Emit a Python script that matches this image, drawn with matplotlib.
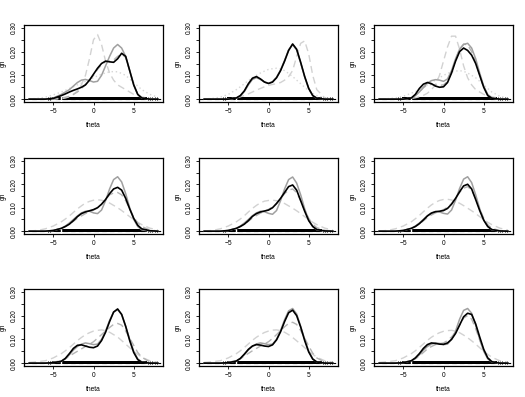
import matplotlib
matplotlib.use('Agg')
import matplotlib.pyplot as plt
import numpy as np

plt.rcParams['font.family'] = ['Liberation Sans', 'DejaVu Sans']

# grid of theta values the densities were read at
xs = [-8, -7, -6, -5, -4, -3.5, -3, -2.5, -2, -1.5, -1, -0.5, 0, 0.5, 1,
      1.5, 2, 2.5, 3, 3.5, 4, 4.5, 5, 5.5, 6, 7, 8]

# black solid curve, one row per panel
black = [
    [0, 0, 0, 0.003, 0.015, 0.022, 0.03, 0.037, 0.043, 0.05, 0.06, 0.08, 0.105, 0.13, 0.15, 0.16, 0.157, 0.155, 0.17, 0.193, 0.18, 0.12, 0.06, 0.02, 0.005, 0, 0],
    [0, 0, 0, 0, 0.005, 0.015, 0.035, 0.065, 0.088, 0.095, 0.085, 0.072, 0.066, 0.072, 0.09, 0.12, 0.16, 0.205, 0.232, 0.21, 0.155, 0.095, 0.045, 0.015, 0.004, 0, 0],
    [0, 0, 0, 0, 0.005, 0.02, 0.045, 0.063, 0.07, 0.065, 0.055, 0.05, 0.052, 0.07, 0.11, 0.16, 0.2, 0.215, 0.205, 0.185, 0.15, 0.1, 0.05, 0.015, 0.004, 0, 0],
    [0, 0, 0, 0.003, 0.012, 0.02, 0.03, 0.045, 0.062, 0.075, 0.082, 0.087, 0.092, 0.1, 0.115, 0.135, 0.16, 0.18, 0.187, 0.175, 0.14, 0.095, 0.055, 0.025, 0.01, 0.002, 0],
    [0, 0, 0, 0.003, 0.012, 0.02, 0.03, 0.045, 0.063, 0.075, 0.082, 0.086, 0.09, 0.1, 0.118, 0.14, 0.165, 0.19, 0.197, 0.175, 0.13, 0.085, 0.045, 0.02, 0.007, 0.001, 0],
    [0, 0, 0, 0.003, 0.012, 0.02, 0.032, 0.048, 0.065, 0.077, 0.083, 0.085, 0.088, 0.097, 0.115, 0.14, 0.168, 0.193, 0.2, 0.18, 0.135, 0.088, 0.047, 0.02, 0.007, 0.001, 0],
    [0, 0, 0, 0.002, 0.008, 0.02, 0.04, 0.062, 0.075, 0.077, 0.072, 0.067, 0.065, 0.072, 0.095, 0.13, 0.175, 0.215, 0.228, 0.205, 0.155, 0.095, 0.045, 0.015, 0.004, 0, 0],
    [0, 0, 0, 0.002, 0.009, 0.02, 0.038, 0.058, 0.072, 0.078, 0.076, 0.072, 0.07, 0.077, 0.098, 0.132, 0.175, 0.212, 0.223, 0.2, 0.152, 0.095, 0.047, 0.017, 0.005, 0, 0],
    [0, 0, 0, 0.002, 0.01, 0.022, 0.04, 0.062, 0.078, 0.085, 0.083, 0.08, 0.079, 0.085, 0.1, 0.125, 0.16, 0.195, 0.21, 0.205, 0.165, 0.11, 0.058, 0.022, 0.006, 0, 0],
]

# grey solid curve
grey = [
    [0, 0, 0, 0.005, 0.02, 0.03, 0.04, 0.055, 0.07, 0.08, 0.083, 0.078, 0.072, 0.075, 0.1, 0.14, 0.18, 0.215, 0.23, 0.215, 0.18, 0.12, 0.06, 0.02, 0.005, 0, 0],
    [0, 0, 0, 0, 0.005, 0.013, 0.032, 0.06, 0.083, 0.09, 0.083, 0.072, 0.067, 0.073, 0.092, 0.123, 0.163, 0.207, 0.23, 0.207, 0.152, 0.093, 0.045, 0.015, 0.004, 0, 0],
    [0, 0, 0, 0, 0.005, 0.015, 0.03, 0.05, 0.068, 0.078, 0.082, 0.08, 0.075, 0.085, 0.12, 0.17, 0.21, 0.23, 0.235, 0.215, 0.17, 0.11, 0.055, 0.02, 0.005, 0, 0],
    [0, 0, 0, 0.003, 0.012, 0.022, 0.035, 0.05, 0.065, 0.078, 0.085, 0.085, 0.078, 0.075, 0.09, 0.13, 0.18, 0.22, 0.232, 0.21, 0.16, 0.1, 0.05, 0.02, 0.006, 0, 0],
    [0, 0, 0, 0.003, 0.012, 0.022, 0.035, 0.05, 0.066, 0.078, 0.085, 0.083, 0.076, 0.072, 0.088, 0.13, 0.18, 0.22, 0.231, 0.205, 0.155, 0.095, 0.048, 0.02, 0.006, 0, 0],
    [0, 0, 0, 0.003, 0.012, 0.022, 0.035, 0.05, 0.066, 0.078, 0.084, 0.082, 0.076, 0.073, 0.09, 0.132, 0.182, 0.222, 0.232, 0.207, 0.155, 0.096, 0.048, 0.02, 0.006, 0, 0],
    [0, 0, 0, 0.002, 0.008, 0.018, 0.035, 0.055, 0.07, 0.08, 0.085, 0.082, 0.078, 0.08, 0.1, 0.135, 0.18, 0.215, 0.225, 0.205, 0.155, 0.1, 0.05, 0.018, 0.005, 0, 0],
    [0, 0, 0, 0.002, 0.009, 0.019, 0.036, 0.056, 0.071, 0.081, 0.085, 0.082, 0.078, 0.08, 0.1, 0.137, 0.183, 0.22, 0.23, 0.207, 0.155, 0.1, 0.05, 0.018, 0.005, 0, 0],
    [0, 0, 0, 0.002, 0.01, 0.02, 0.035, 0.055, 0.07, 0.08, 0.085, 0.083, 0.078, 0.08, 0.1, 0.135, 0.185, 0.222, 0.23, 0.21, 0.16, 0.1, 0.05, 0.018, 0.005, 0, 0],
]

# light grey dashed curve
light = [
    [0, 0, 0, 0, 0.002, 0.005, 0.01, 0.02, 0.035, 0.06, 0.1, 0.17, 0.25, 0.272, 0.23, 0.16, 0.11, 0.08, 0.06, 0.05, 0.04, 0.03, 0.02, 0.015, 0.01, 0.003, 0],
    [0, 0, 0, 0, 0.005, 0.01, 0.015, 0.022, 0.03, 0.038, 0.045, 0.052, 0.058, 0.062, 0.065, 0.07, 0.08, 0.095, 0.12, 0.18, 0.235, 0.245, 0.19, 0.1, 0.04, 0.005, 0],
    [0, 0, 0, 0.001, 0.003, 0.006, 0.01, 0.016, 0.025, 0.04, 0.06, 0.1, 0.16, 0.22, 0.265, 0.265, 0.21, 0.14, 0.09, 0.06, 0.04, 0.03, 0.02, 0.015, 0.01, 0.003, 0],
    [0.001, 0.003, 0.01, 0.022, 0.04, 0.052, 0.065, 0.08, 0.095, 0.108, 0.12, 0.127, 0.132, 0.134, 0.132, 0.127, 0.12, 0.11, 0.1, 0.088, 0.075, 0.062, 0.05, 0.038, 0.028, 0.013, 0.005],
    [0.001, 0.003, 0.01, 0.022, 0.04, 0.052, 0.066, 0.082, 0.097, 0.11, 0.121, 0.128, 0.131, 0.132, 0.13, 0.125, 0.118, 0.108, 0.098, 0.087, 0.075, 0.062, 0.05, 0.038, 0.028, 0.013, 0.005],
    [0.001, 0.003, 0.01, 0.022, 0.04, 0.053, 0.067, 0.083, 0.098, 0.112, 0.123, 0.131, 0.135, 0.136, 0.133, 0.127, 0.119, 0.109, 0.098, 0.087, 0.075, 0.062, 0.05, 0.038, 0.028, 0.013, 0.005],
    [0.003, 0.006, 0.01, 0.022, 0.04, 0.052, 0.065, 0.08, 0.095, 0.108, 0.12, 0.128, 0.135, 0.138, 0.14, 0.137, 0.13, 0.12, 0.11, 0.095, 0.08, 0.065, 0.05, 0.037, 0.025, 0.01, 0.004],
    [0.003, 0.006, 0.01, 0.022, 0.04, 0.052, 0.066, 0.081, 0.096, 0.109, 0.12, 0.129, 0.135, 0.139, 0.14, 0.137, 0.13, 0.12, 0.108, 0.094, 0.08, 0.065, 0.05, 0.037, 0.025, 0.01, 0.004],
    [0.003, 0.006, 0.01, 0.022, 0.04, 0.052, 0.066, 0.081, 0.096, 0.109, 0.12, 0.128, 0.134, 0.137, 0.138, 0.135, 0.128, 0.118, 0.107, 0.094, 0.08, 0.065, 0.05, 0.037, 0.025, 0.01, 0.004],
]

# mid grey dashed curve
mid = [
    [0, 0, 0, 0.002, 0.005, 0.008, 0.012, 0.02, 0.03, 0.045, 0.06, 0.08, 0.1, 0.125, 0.145, 0.158, 0.16, 0.165, 0.18, 0.19, 0.175, 0.12, 0.06, 0.02, 0.005, 0, 0],
    [0, 0, 0, 0, 0.005, 0.015, 0.034, 0.063, 0.086, 0.093, 0.084, 0.072, 0.066, 0.072, 0.091, 0.121, 0.161, 0.206, 0.231, 0.208, 0.153, 0.094, 0.045, 0.015, 0.004, 0, 0],
    [0, 0, 0, 0, 0.005, 0.015, 0.03, 0.048, 0.06, 0.062, 0.06, 0.058, 0.06, 0.075, 0.115, 0.165, 0.21, 0.232, 0.228, 0.2, 0.155, 0.1, 0.05, 0.017, 0.004, 0, 0],
    [0, 0, 0, 0.003, 0.012, 0.02, 0.03, 0.042, 0.055, 0.065, 0.075, 0.083, 0.09, 0.1, 0.115, 0.135, 0.155, 0.163, 0.165, 0.155, 0.13, 0.095, 0.06, 0.035, 0.02, 0.005, 0.001],
    [0, 0, 0, 0.003, 0.012, 0.02, 0.03, 0.042, 0.056, 0.067, 0.077, 0.085, 0.093, 0.103, 0.118, 0.138, 0.16, 0.175, 0.18, 0.165, 0.13, 0.09, 0.055, 0.03, 0.015, 0.004, 0.001],
    [0, 0, 0, 0.003, 0.012, 0.02, 0.031, 0.044, 0.058, 0.069, 0.078, 0.085, 0.092, 0.102, 0.118, 0.14, 0.165, 0.183, 0.19, 0.175, 0.138, 0.095, 0.055, 0.028, 0.012, 0.003, 0.001],
    [0, 0, 0.001, 0.004, 0.01, 0.018, 0.03, 0.04, 0.05, 0.06, 0.07, 0.08, 0.09, 0.105, 0.12, 0.135, 0.15, 0.163, 0.167, 0.16, 0.135, 0.105, 0.075, 0.045, 0.025, 0.005, 0.001],
    [0, 0, 0.001, 0.004, 0.01, 0.018, 0.03, 0.041, 0.052, 0.062, 0.072, 0.081, 0.09, 0.104, 0.12, 0.137, 0.153, 0.167, 0.172, 0.163, 0.137, 0.105, 0.072, 0.042, 0.022, 0.004, 0.001],
    [0, 0, 0.001, 0.003, 0.01, 0.018, 0.03, 0.045, 0.06, 0.07, 0.078, 0.082, 0.085, 0.095, 0.11, 0.13, 0.16, 0.19, 0.2, 0.185, 0.145, 0.098, 0.055, 0.025, 0.008, 0.001, 0],
]

# light dotted curve (top row only)
dotted = [
    [0.001, 0.003, 0.008, 0.018, 0.03, 0.037, 0.045, 0.052, 0.06, 0.067, 0.075, 0.082, 0.09, 0.098, 0.105, 0.11, 0.115, 0.116, 0.115, 0.108, 0.1, 0.085, 0.07, 0.055, 0.04, 0.02, 0.008],
    [0.001, 0.003, 0.008, 0.02, 0.04, 0.052, 0.065, 0.078, 0.09, 0.1, 0.11, 0.118, 0.125, 0.128, 0.13, 0.127, 0.12, 0.108, 0.095, 0.08, 0.065, 0.05, 0.035, 0.024, 0.015, 0.005, 0.001],
    [0.001, 0.002, 0.005, 0.012, 0.025, 0.032, 0.04, 0.05, 0.06, 0.07, 0.08, 0.09, 0.1, 0.108, 0.115, 0.118, 0.12, 0.117, 0.11, 0.1, 0.09, 0.075, 0.06, 0.045, 0.03, 0.012, 0.004],
    None, None, None, None, None, None,
]

# rug of theta draws along the bottom
rug_lo, rug_hi = -5.2, 6.6
rug_solid = -4.1
rug_sparse = [-5.6, -5.4, 6.8, 7.0, 7.3, 7.6, 7.9]

fig = plt.figure(figsize=(5.25, 3.97), dpi=100)
W, H = 525.0, 397.0
lefts = [24, 199, 374]
rows = [(25, 102), (158, 234), (289, 366)]

for k in range(9):
    r, c = divmod(k, 3)
    top, bot = rows[r]
    ax = fig.add_axes([lefts[c] / W, 1 - bot / H, 139 / W, (bot - top) / H])

    ax.axhline(0, color='black', lw=0.8, ls=(0, (4, 3)), zorder=1)
    ax.fill_between([rug_lo, rug_solid], -0.005, 0.007, color='black', lw=0, zorder=2)
    ax.fill_between([rug_solid, rug_hi], -0.005, 0.01, color='black', lw=0, zorder=2)
    ax.vlines(rug_sparse, -0.005, 0.007, color='black', lw=0.7, zorder=2)
    ax.vlines([rug_solid + 0.1], -0.012, 0.012, color='white', lw=1.0, zorder=3)

    if dotted[k] is not None:
        ax.plot(xs, dotted[k], color='#d6d6d6', lw=1.0, ls=(0, (1, 2)), zorder=4)
    ax.plot(xs, light[k], color='#d2d2d2', lw=1.0, ls=(0, (5, 3)), zorder=4)
    ax.plot(xs, mid[k], color='#b4b4b4', lw=1.0, ls=(0, (5, 3)), zorder=5)
    ax.plot(xs, grey[k], color='#a0a0a0', lw=1.1, zorder=6)
    ax.plot(xs, black[k], color='black', lw=1.2, zorder=7)

    ax.set_xlim(-8.64, 8.64)
    ax.set_ylim(-0.012, 0.312)
    ax.set_xticks([-5, 0, 5])
    ax.set_yticks(np.arange(0, 0.31, 0.05))
    ax.set_yticklabels(['0.00', '', '0.10', '', '0.20', '', '0.30'], rotation=90, va='center')
    ax.tick_params(labelsize=4.8, length=2.5, width=0.6, pad=2)
    for s in ax.spines.values():
        s.set_linewidth(0.9)
    ax.set_xlabel('theta', fontsize=4.8, labelpad=5)
    ax.set_ylabel('gn', fontsize=4.8)
    ax.yaxis.set_label_coords(-0.125, 0.5)

fig.savefig('out.png', dpi=100)
